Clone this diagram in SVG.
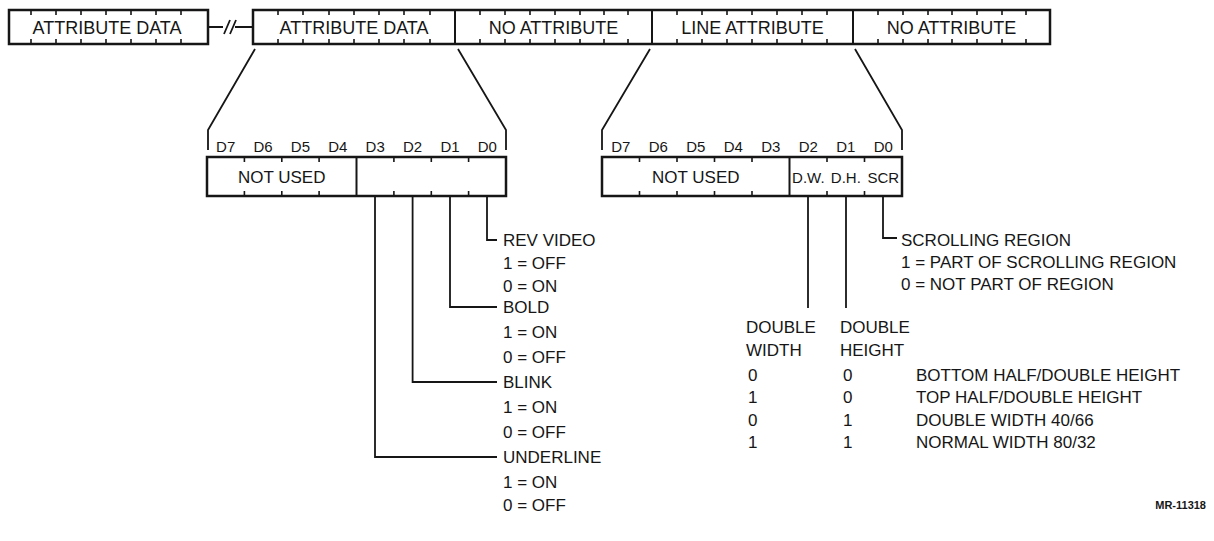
<svg xmlns="http://www.w3.org/2000/svg" width="1214" height="541" viewBox="0 0 1214 541">
<style>
text{font-family:"Liberation Sans",Arial,sans-serif;fill:#161616}
.t18{font-size:18px;text-anchor:middle}
.t15{font-size:15px;text-anchor:middle}
.t17{font-size:17px}
.m{text-anchor:middle}
.box{fill:#fff;stroke:#161616;stroke-width:2.5}
.div{stroke:#161616;stroke-width:2}
.tick{stroke:#161616;stroke-width:1.6}
.ln{fill:none;stroke:#161616;stroke-width:1.8}
.mr{font-size:11px;font-weight:bold}
</style>
<rect width="1214" height="541" fill="#fff"/>

<g id="word-strip">
  <g id="box-attr-data-1">
    <rect class="box" x="9" y="10" width="199" height="34"/>
    <path class="tick" d="M31,10v5M56,10v5M81,10v5M106,10v5M131,10v5M156,10v5M181,10v5M31,44v-5M56,44v-5M81,44v-5M106,44v-5M131,44v-5M156,44v-5M181,44v-5"/>
    <text class="t18" x="107" y="33.5">ATTRIBUTE DATA</text>
  </g>
  <g id="break">
    <path class="ln" d="M208,27H223M224,34L230,20M230,34L236,20M235,27H253"/>
  </g>
  <rect class="box" x="253" y="10" width="797" height="34"/>
  <g id="box-attr-data-2">
    <path class="tick" d="M278,10v5M303,10v5M329,10v5M354,10v5M379,10v5M404,10v5M430,10v5M278,44v-5M303,44v-5M329,44v-5M354,44v-5M379,44v-5M404,44v-5M430,44v-5"/>
    <text class="t18" x="354" y="33.5">ATTRIBUTE DATA</text>
  </g>
  <g id="box-no-attr-1">
    <line class="div" x1="455" y1="10" x2="455" y2="44"/>
    <path class="tick" d="M480,10v5M505,10v5M530,10v5M555,10v5M580,10v5M604,10v5M628,10v5M480,44v-5M505,44v-5M530,44v-5M555,44v-5M580,44v-5M604,44v-5M628,44v-5"/>
    <text class="t18" x="553.5" y="33.5">NO ATTRIBUTE</text>
  </g>
  <g id="box-line-attr">
    <line class="div" x1="652" y1="10" x2="652" y2="44"/>
    <path class="tick" d="M677,10v5M702,10v5M727,10v5M752,10v5M777,10v5M802,10v5M827,10v5M677,44v-5M702,44v-5M727,44v-5M752,44v-5M777,44v-5M802,44v-5M827,44v-5"/>
    <text class="t18" x="752.5" y="33.5">LINE ATTRIBUTE</text>
  </g>
  <g id="box-no-attr-2">
    <line class="div" x1="853" y1="10" x2="853" y2="44"/>
    <path class="tick" d="M878,10v5M903,10v5M928,10v5M952,10v5M977,10v5M1002,10v5M1026,10v5M878,44v-5M903,44v-5M928,44v-5M952,44v-5M977,44v-5M1002,44v-5M1026,44v-5"/>
    <text class="t18" x="951.5" y="33.5">NO ATTRIBUTE</text>
  </g>
</g>

<g id="reg-attr-data">
  <text class="t15" x="225.7" y="152">D7</text>
  <text class="t15" x="263.1" y="152">D6</text>
  <text class="t15" x="300.4" y="152">D5</text>
  <text class="t15" x="337.8" y="152">D4</text>
  <text class="t15" x="375.2" y="152">D3</text>
  <text class="t15" x="412.6" y="152">D2</text>
  <text class="t15" x="450" y="152">D1</text>
  <text class="t15" x="487.3" y="152">D0</text>
  <rect class="box" x="207" y="157" width="299" height="39"/>
  <line class="div" x1="356.5" y1="157" x2="356.5" y2="196"/>
  <path class="tick" d="M244.4,157v5M281.8,157v5M319.1,157v5M393.9,157v5M431.3,157v5M468.6,157v5M244.4,196v-5M281.8,196v-5M319.1,196v-5M393.9,196v-5M431.3,196v-5M468.6,196v-5"/>
  <text class="t17 m" x="281.7" y="183">NOT USED</text>
</g>

<g id="reg-line-attr">
  <text class="t15" x="620.8" y="152">D7</text>
  <text class="t15" x="658.3" y="152">D6</text>
  <text class="t15" x="695.8" y="152">D5</text>
  <text class="t15" x="733.3" y="152">D4</text>
  <text class="t15" x="770.8" y="152">D3</text>
  <text class="t15" x="808.3" y="152">D2</text>
  <text class="t15" x="845.8" y="152">D1</text>
  <text class="t15" x="883.3" y="152">D0</text>
  <rect class="box" x="602" y="157" width="300" height="39"/>
  <line class="div" x1="789.5" y1="157" x2="789.5" y2="196"/>
  <path class="tick" d="M639.5,157v5M677,157v5M714.5,157v5M752,157v5M827,157v5M864.5,157v5M639.5,196v-5M677,196v-5M714.5,196v-5M752,196v-5M827,196v-5M864.5,196v-5"/>
  <text class="t17 m" x="695.8" y="183">NOT USED</text>
  <text class="t15" x="808.3" y="183">D.W.</text>
  <text class="t15" x="845.8" y="183">D.H.</text>
  <text class="t15" x="883.3" y="183">SCR</text>
</g>

<g id="connectors">
  <polyline class="ln" points="255,49 208,130 208,150"/>
  <polyline class="ln" points="458,49 506,130 506,150"/>
  <polyline class="ln" points="650,49 602,130 602,150"/>
  <polyline class="ln" points="855,49 902,130 902,150"/>
  <path class="ln" d="M487,197V240H497"/>
  <path class="ln" d="M450,197V307H497"/>
  <path class="ln" d="M412.6,197V382H497"/>
  <path class="ln" d="M375,197V457H497"/>
  <path class="ln" d="M883,197V238H897"/>
  <path class="ln" d="M808,197V308"/>
  <path class="ln" d="M846,197V308"/>
</g>

<g id="rev-video">
  <text class="t17" x="503" y="246">REV VIDEO</text>
  <text class="t17" x="503" y="269">1 = OFF</text>
  <text class="t17" x="503" y="292">0 = ON</text>
</g>
<g id="bold">
  <text class="t17" x="503" y="313">BOLD</text>
  <text class="t17" x="503" y="338">1 = ON</text>
  <text class="t17" x="503" y="363">0 = OFF</text>
</g>
<g id="blink">
  <text class="t17" x="503" y="388">BLINK</text>
  <text class="t17" x="503" y="413">1 = ON</text>
  <text class="t17" x="503" y="438">0 = OFF</text>
</g>
<g id="underline">
  <text class="t17" x="503" y="463">UNDERLINE</text>
  <text class="t17" x="503" y="488">1 = ON</text>
  <text class="t17" x="503" y="511">0 = OFF</text>
</g>

<g id="scrolling-region">
  <text class="t17" x="901" y="246">SCROLLING REGION</text>
  <text class="t17" x="901" y="268">1 = PART OF SCROLLING REGION</text>
  <text class="t17" x="901" y="290">0 = NOT PART OF REGION</text>
</g>

<g id="size-table">
  <text class="t17" x="746" y="333">DOUBLE</text>
  <text class="t17" x="746" y="356">WIDTH</text>
  <text class="t17" x="840" y="333">DOUBLE</text>
  <text class="t17" x="840" y="356">HEIGHT</text>
  <text class="t17" x="748" y="381">0</text>
  <text class="t17" x="843" y="381">0</text>
  <text class="t17" x="916" y="381">BOTTOM HALF/DOUBLE HEIGHT</text>
  <text class="t17" x="748" y="403">1</text>
  <text class="t17" x="843" y="403">0</text>
  <text class="t17" x="916" y="403">TOP HALF/DOUBLE HEIGHT</text>
  <text class="t17" x="748" y="426">0</text>
  <text class="t17" x="843" y="426">1</text>
  <text class="t17" x="916" y="426">DOUBLE WIDTH 40/66</text>
  <text class="t17" x="748" y="448">1</text>
  <text class="t17" x="843" y="448">1</text>
  <text class="t17" x="916" y="448">NORMAL WIDTH 80/32</text>
</g>

<text class="mr" x="1206" y="509" text-anchor="end">MR-11318</text>
</svg>
